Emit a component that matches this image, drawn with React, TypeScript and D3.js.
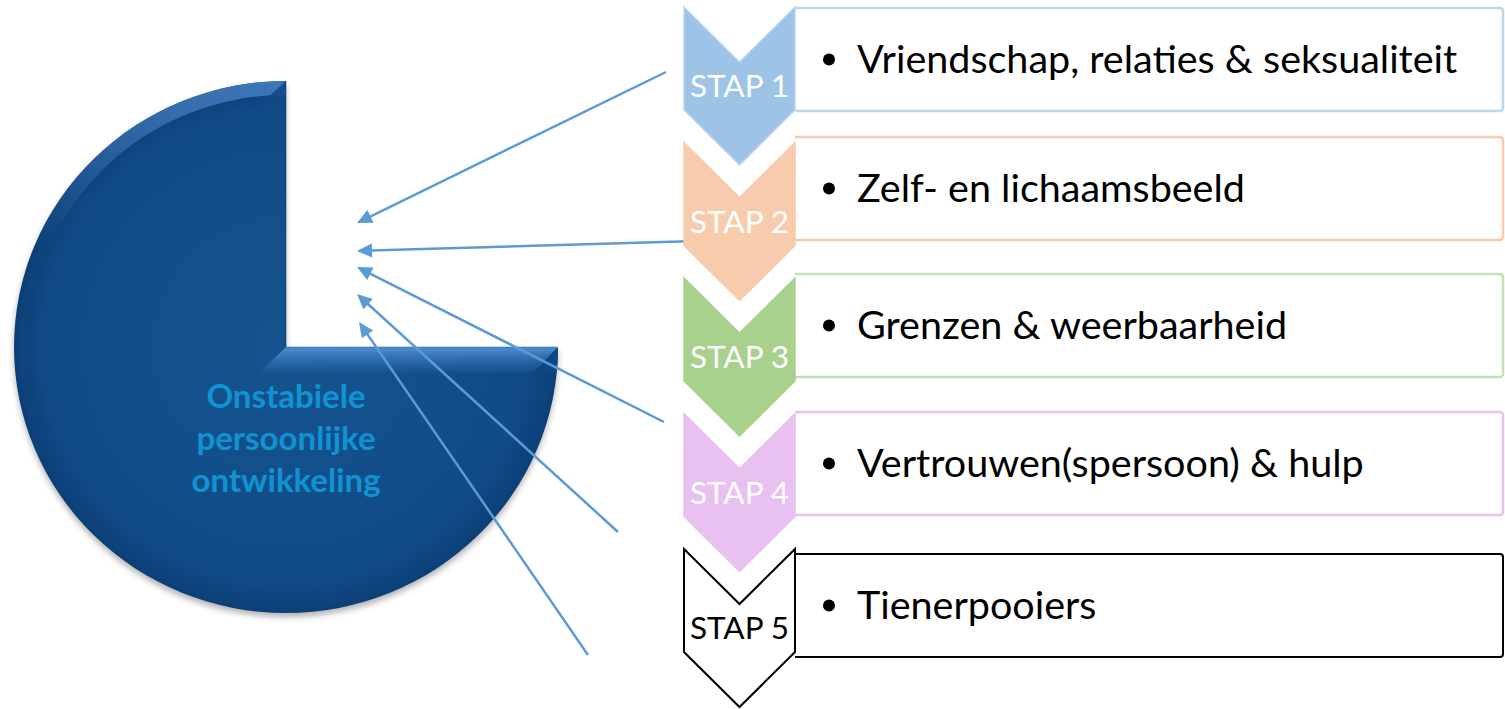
import * as d3 from 'd3';
import { useEffect, useRef } from 'react';

const WIDTH = 1505;
const HEIGHT = 709;

// diagram content
const STEP_LABELS = ['STAP 1', 'STAP 2', 'STAP 3', 'STAP 4', 'STAP 5'];
const STEP_ITEMS = [
    'Vriendschap, relaties & seksualiteit',
    'Zelf- en lichaamsbeeld',
    'Grenzen & weerbaarheid',
    'Vertrouwen(spersoon) & hulp',
    'Tienerpooiers',
];
const STEP_FILLS = ['#9dc3e6', '#f8cbad', '#a9d18e', '#e8c1f1', '#ffffff'];
const STEP_STROKES = ['#bdd7ee', '#f8cbad', '#a9d18e', '#e8c1f1', '#000000'];
const BOX_STROKES = ['#bdd7ee', '#f8cbad', '#c5e0b4', '#e8c1f1', '#000000'];
const STEP_TEXT = ['#ffffff', '#ffffff', '#ffffff', '#ffffff', '#000000'];
const CENTER_LINES = ['Onstabiele', 'persoonlijke', 'ontwikkeling'];
// pie share: missing quarter, filled three quarters
const PIE_VALUES = [25, 75];

// layout
const FONT = 'Lato, "Open Sans", sans-serif';
const CHEV = { x0: 684, x1: 795, notch: 55, body: 103 };
const BOX_TOP = [8, 137, 274, 412, 554];
const BOX_H = 103;
const PIE = { cx: 286, cy: 347, r: 270, sx: 272 / 270, sy: 266 / 270 };
const ARROWS = [
    { from: [666, 72], to: [357, 223] },
    { from: [697, 241], to: [357, 251] },
    { from: [664, 422], to: [357, 267] },
    { from: [618, 532], to: [357, 294] },
    { from: [588, 655], to: [359, 322] },
];
const HEAD_LEN = 15;
const HEAD_HALF = 7;

const App = () => {
    const svgRef = useRef<SVGSVGElement>(null);

    useEffect(() => {
        if (!svgRef.current) return;
        const svg = d3.select(svgRef.current);
        svg.selectAll('*').remove();

        const defs = svg.append('defs');
        const rg = defs.append('radialGradient').attr('id', 'pieFill').attr('cx', '50%').attr('cy', '50%').attr('r', '50%');
        rg.append('stop').attr('offset', '0%').attr('stop-color', '#14538f');
        rg.append('stop').attr('offset', '88%').attr('stop-color', '#114b87');
        rg.append('stop').attr('offset', '100%').attr('stop-color', '#0c3f77');

        const rim = defs
            .append('linearGradient')
            .attr('id', 'rimGrad')
            .attr('gradientUnits', 'userSpaceOnUse')
            .attr('x1', 0)
            .attr('y1', -PIE.r)
            .attr('x2', 0)
            .attr('y2', -PIE.r * 0.4);
        rim.append('stop').attr('offset', '0%').attr('stop-color', '#5d9be0').attr('stop-opacity', 0.6);
        rim.append('stop').attr('offset', '100%').attr('stop-color', '#5d9be0').attr('stop-opacity', 0);

        const edge = defs
            .append('linearGradient')
            .attr('id', 'edgeGrad')
            .attr('gradientUnits', 'userSpaceOnUse')
            .attr('x1', 0)
            .attr('y1', 0)
            .attr('x2', 0)
            .attr('y2', 26);
        edge.append('stop').attr('offset', '0%').attr('stop-color', '#5b9be0').attr('stop-opacity', 0.85);
        edge.append('stop').attr('offset', '100%').attr('stop-color', '#3d7cc2').attr('stop-opacity', 0.1);

        const shadow = defs.append('filter').attr('id', 'pieShadow').attr('x', '-10%').attr('y', '-10%').attr('width', '120%').attr('height', '125%');
        shadow.append('feGaussianBlur').attr('stdDeviation', 3);

        // pie with missing quarter
        const pieGen = d3.pie<number>().sort(null).startAngle(0).endAngle(2 * Math.PI);
        const arcs = pieGen(PIE_VALUES);
        const arcGen = d3.arc<d3.PieArcDatum<number>>().innerRadius(0).outerRadius(PIE.r);
        const rimGen = d3.arc<d3.PieArcDatum<number>>().innerRadius(PIE.r - 14).outerRadius(PIE.r);
        const slice = arcGen(arcs[1])!;

        defs.append('clipPath').attr('id', 'pieClip').append('path').attr('d', slice);

        const pg = svg
            .append('g')
            .attr('transform', `translate(${PIE.cx},${PIE.cy}) scale(${PIE.sx},${PIE.sy})`);
        pg.append('path')
            .attr('d', slice)
            .attr('fill', '#000')
            .attr('opacity', 0.3)
            .attr('transform', 'translate(0,4)')
            .attr('filter', 'url(#pieShadow)');
        pg.append('path').attr('d', slice).attr('fill', 'url(#pieFill)');

        const bevel = pg.append('g').attr('clip-path', 'url(#pieClip)');
        // rim highlight on the upper arc
        bevel.append('path').attr('d', rimGen(arcs[1])!).attr('fill', 'url(#rimGrad)');
        // corner facet at the top of the vertical cut
        bevel.append('path')
            .attr('d', `M0,${-PIE.r} L-24,${-PIE.r + 22} L-3,${-PIE.r + 22} Z`)
            .attr('fill', '#0f4a86')
            .attr('opacity', 0.9);
        // light facet along the horizontal cut
        bevel.append('path')
            .attr('d', `M0,0 L${PIE.r},0 L${PIE.r - 24},26 L-26,26 Z`)
            .attr('fill', 'url(#edgeGrad)');
        // darker facet at the outer end of the horizontal cut
        bevel.append('path')
            .attr('d', `M${PIE.r},0 L${PIE.r - 24},26 L${PIE.r},26 Z`)
            .attr('fill', '#0e477f');
        pg.append('line')
            .attr('x1', 0)
            .attr('y1', 0.5)
            .attr('x2', PIE.r)
            .attr('y2', 0.5)
            .attr('stroke', '#3f7fc6')
            .attr('stroke-width', 1.5);
        pg.append('line')
            .attr('x1', -0.5)
            .attr('y1', -PIE.r)
            .attr('x2', -0.5)
            .attr('y2', 0)
            .attr('stroke', '#0d4580')
            .attr('stroke-width', 1.5);

        const tg = svg.append('g').attr('transform', `translate(${PIE.cx},${PIE.cy})`);
        CENTER_LINES.forEach((line, i) => {
            tg.append('text')
                .attr('x', 0)
                .attr('y', 61 + i * 42)
                .attr('text-anchor', 'middle')
                .attr('font-family', FONT)
                .attr('font-weight', 'bold')
                .attr('font-size', 33)
                .attr('fill', '#1093d3')
                .text(line);
        });

        // arrows
        const ag = svg.append('g');
        ARROWS.forEach((a) => {
            const ang = Math.atan2(a.from[1] - a.to[1], a.from[0] - a.to[0]);
            const ux = Math.cos(ang);
            const uy = Math.sin(ang);
            const bx = a.to[0] + ux * HEAD_LEN;
            const by = a.to[1] + uy * HEAD_LEN;
            ag.append('line')
                .attr('x1', a.from[0])
                .attr('y1', a.from[1])
                .attr('x2', bx - ux * 2)
                .attr('y2', by - uy * 2)
                .attr('stroke', '#5b9bd5')
                .attr('stroke-width', 2.5);
            ag.append('path')
                .attr(
                    'd',
                    `M${a.to[0]},${a.to[1]} L${bx - uy * HEAD_HALF},${by + ux * HEAD_HALF} L${bx + uy * HEAD_HALF},${by - ux * HEAD_HALF} Z`
                )
                .attr('fill', '#5b9bd5');
        });

        // steps
        const yStep = d3.scaleLinear().domain([0, STEP_LABELS.length - 1]).range([7, 549]);
        const xm = (CHEV.x0 + CHEV.x1) / 2;

        STEP_LABELS.forEach((_label, i) => {
            const bt = BOX_TOP[i];
            svg.append('path')
                .attr('d', `M${CHEV.x1},${bt} H${WIDTH - 5} a3,3 0 0 1 3,3 V${bt + BOX_H - 3} a3,3 0 0 1 -3,3 H${CHEV.x1}`)
                .attr('fill', '#ffffff')
                .attr('stroke', BOX_STROKES[i])
                .attr('stroke-width', i === 4 ? 2 : 2.5);
            svg.append('circle')
                .attr('cx', 829)
                .attr('cy', bt + BOX_H / 2)
                .attr('r', 6)
                .attr('fill', '#000');
            svg.append('text')
                .attr('x', 857)
                .attr('y', bt + BOX_H / 2 + 13)
                .attr('font-family', FONT)
                .attr('font-size', 39.5)
                .attr('fill', '#000')
                .text(STEP_ITEMS[i]);
        });

        STEP_LABELS.forEach((label, i) => {
            const y0 = yStep(i);
            const p = d3.path();
            p.moveTo(CHEV.x0, y0);
            p.lineTo(xm, y0 + CHEV.notch);
            p.lineTo(CHEV.x1, y0);
            p.lineTo(CHEV.x1, y0 + CHEV.body);
            p.lineTo(xm, y0 + CHEV.body + CHEV.notch);
            p.lineTo(CHEV.x0, y0 + CHEV.body);
            p.closePath();
            svg.append('path')
                .attr('d', p.toString())
                .attr('fill', STEP_FILLS[i])
                .attr('stroke', STEP_STROKES[i])
                .attr('stroke-width', i === 4 ? 2 : 1.5)
                .attr('stroke-linejoin', 'miter');
            svg.append('text')
                .attr('x', xm)
                .attr('y', y0 + CHEV.notch + 35)
                .attr('text-anchor', 'middle')
                .attr('font-family', FONT)
                .attr('font-size', 31.5)
                .attr('fill', STEP_TEXT[i])
                .text(label);
        });
    }, []);

    return (
        <div style={{ position: 'absolute', left: 0, top: 0 }}>
            <svg ref={svgRef} width={WIDTH} height={HEIGHT} style={{ display: 'block' }}></svg>
        </div>
    );
};

export default App;
